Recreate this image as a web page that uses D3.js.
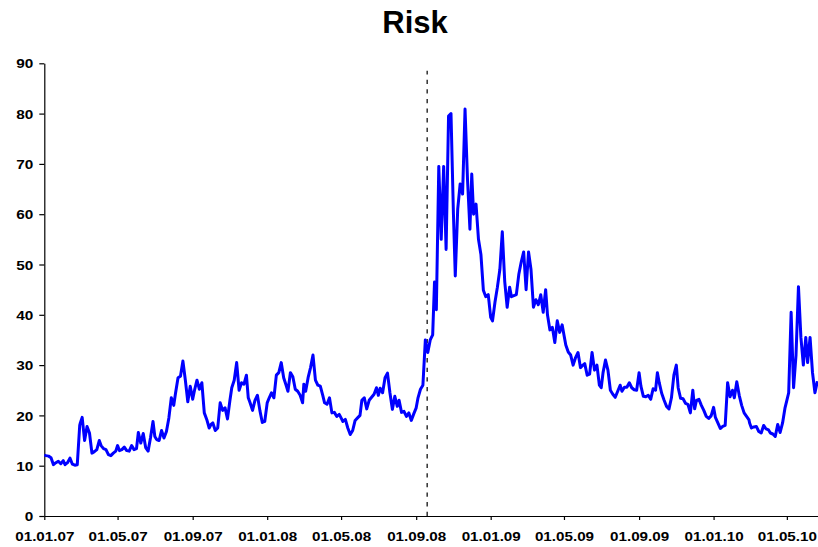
<!DOCTYPE html>
<html>
<head>
<meta charset="utf-8">
<script src="https://cdn.jsdelivr.net/npm/d3@7/dist/d3.min.js"></script>
<style>
  html, body { margin: 0; padding: 0; background: #fff; }
  svg { display: block; }
</style>
</head>
<body>
<svg id="chart" width="818" height="547"></svg>
<script>
// ---------------- DATA ----------------
const chartTitle = "Risk";
const months = [
  "2007-01","2007-02","2007-03","2007-04","2007-05","2007-06","2007-07","2007-08","2007-09","2007-10","2007-11","2007-12",
  "2008-01","2008-02","2008-03","2008-04","2008-05","2008-06","2008-07","2008-08","2008-09","2008-10","2008-11","2008-12",
  "2009-01","2009-02","2009-03","2009-04","2009-05","2009-06","2009-07","2009-08","2009-09","2009-10","2009-11","2009-12",
  "2010-01","2010-02","2010-03","2010-04","2010-05","2010-06"
];
const dayGrid = [1, 4, 8, 12, 16, 20, 24, 28];

const values2007 = [
  [12.1, 12.0, 11.9, 11.6, 10.2, 10.6, 10.9, 10.4],
  [11.0, 10.2, 10.6, 11.5, 10.3, 10.1, 10.2, 18.0],
  [18.5, 19.6, 15.0, 17.8, 16.5, 12.5, 12.8, 13.2],
  [15.0, 14.0, 13.4, 13.2, 12.2, 12.0, 12.5, 12.9],
  [14.0, 13.0, 13.2, 13.7, 13.0, 12.9, 14.0, 13.2],
  [13.4, 16.6, 14.5, 16.4, 13.6, 12.9, 15.6, 18.8],
  [15.8, 15.2, 15.0, 17.0, 15.5, 16.8, 19.5, 23.5],
  [22.0, 24.5, 27.5, 27.8, 30.8, 27.0, 22.7, 25.8],
  [23.2, 25.0, 27.0, 25.2, 26.5, 20.5, 19.2, 17.5],
  [18.2, 18.5, 17.0, 17.5, 22.5, 21.0, 21.5, 19.3],
  [23.0, 25.5, 27.0, 30.5, 25.0, 26.5, 26.2, 28.0],
  [23.5, 22.5, 21.0, 23.0, 24.0, 21.0, 18.6, 18.8]
];
const values2008 = [
  [22.5, 23.4, 24.5, 23.5, 28.0, 28.5, 30.5, 27.5],
  [26.0, 24.8, 28.5, 27.7, 25.2, 24.8, 24.0, 22.5],
  [26.2, 24.8, 27.5, 29.5, 32.0, 27.0, 26.0, 25.8],
  [24.0, 22.5, 22.2, 23.5, 20.5, 20.6, 19.8, 20.2],
  [19.5, 18.8, 19.2, 17.5, 16.2, 17.0, 19.0, 19.5],
  [20.0, 23.0, 23.5, 21.3, 23.0, 23.6, 24.2, 25.5],
  [24.0, 25.4, 24.5, 27.5, 28.4, 24.5, 21.2, 23.8],
  [21.8, 23.0, 20.6, 20.8, 19.8, 20.5, 19.0, 20.3],
  [21.5, 23.5, 25.2, 26.0, 35.0, 32.5, 35.0, 36.0],
  [46.5, 41.0, 69.5, 55.0, 69.5, 53.0, 79.5, 80.0],
  [60.0, 47.7, 61.0, 66.0, 64.0, 80.9, 67.0, 57.0],
  [68.0, 60.0, 62.0, 55.0, 52.0, 44.9, 43.6, 44.0]
];
const values2009 = [
  [39.5, 38.8, 42.5, 45.5, 49.0, 56.5, 46.6, 41.5],
  [45.5, 43.6, 43.8, 44.0, 48.0, 50.5, 52.5, 45.0],
  [47.0, 52.5, 49.0, 41.5, 43.0, 42.0, 44.0, 40.5],
  [45.0, 40.0, 37.0, 37.5, 34.5, 38.8, 36.5, 38.0],
  [36.0, 34.0, 32.6, 32.0, 30.0, 31.5, 32.5, 29.5],
  [30.0, 30.3, 28.0, 28.2, 32.5, 29.0, 30.0, 26.0],
  [25.5, 28.5, 31.0, 29.0, 25.0, 24.2, 23.6, 24.8],
  [26.0, 24.8, 25.6, 25.6, 26.5, 25.5, 25.1, 25.0],
  [28.5, 25.8, 23.8, 23.7, 24.0, 23.2, 25.3, 25.0],
  [28.5, 26.5, 24.4, 23.0, 21.8, 21.3, 23.5, 28.0],
  [30.0, 25.5, 23.4, 23.3, 22.4, 22.2, 20.5, 25.0],
  [21.3, 23.0, 23.2, 22.0, 21.0, 19.8, 19.4, 19.9]
];
const values2010 = [
  [21.6, 19.6, 18.5, 17.4, 17.8, 18.0, 26.5, 23.7],
  [25.0, 23.5, 26.7, 24.0, 22.0, 20.5, 19.8, 19.1],
  [18.5, 17.5, 17.7, 17.8, 16.8, 16.5, 18.0, 17.3],
  [17.1, 16.5, 16.3, 15.8, 18.2, 16.6, 18.5, 21.5],
  [23.0, 24.5, 40.5, 25.5, 32.0, 45.6, 35.5, 30.0],
  [35.5, 30.5, 35.5, 28.5, 24.5, 26.8]
];

const xTickDates = ["2007-01-01","2007-05-01","2007-09-01","2008-01-01","2008-05-01","2008-09-01",
                    "2009-01-01","2009-05-01","2009-09-01","2010-01-01","2010-05-01"];
const yTicks = [0, 10, 20, 30, 40, 50, 60, 70, 80, 90];
const xDomain = ["2007-01-01", "2010-06-21"];
const yDomain = [0, 90];
const eventDate = "2008-09-19";
const eventTop = 88.5;

// ---------------- BUILD ----------------
const parse = d3.utcParse("%Y-%m-%d");
const pad = d => (d < 10 ? "0" : "") + d;
const monthRows = [].concat(values2007, values2008, values2009, values2010);
const data = [];
months.forEach((m, i) => {
  monthRows[i].forEach((v, j) => {
    data.push({ date: parse(m + "-" + pad(dayGrid[j])), value: v });
  });
});

const svg = d3.select("#chart");
const plotLeft = 44.3, plotRight = 818, plotTop = 63.3, plotBottom = 516;

const x = d3.scaleUtc().domain(xDomain.map(parse)).range([plotLeft, plotRight]);
const y = d3.scaleLinear().domain(yDomain).range([plotBottom, plotTop]);

// title
svg.append("text")
  .attr("x", 415).attr("y", 33.3)
  .attr("text-anchor", "middle")
  .style("font-family", "'Liberation Sans', Arial, sans-serif")
  .style("font-weight", "bold")
  .style("font-size", "31px")
  .text(chartTitle);

const fmt = d3.utcFormat("%d.%m.%y");
const labelFont = "'Liberation Sans', Arial, sans-serif";

// y axis
const yAxis = d3.axisLeft(y).tickValues(yTicks).tickSize(5).tickSizeOuter(0).tickFormat(d => d);
const gy = svg.append("g").attr("transform", `translate(${plotLeft},0)`).call(yAxis);
gy.select(".domain").attr("stroke", "#000").attr("stroke-width", 1.2);
gy.selectAll(".tick line").attr("stroke", "#000").attr("stroke-width", 1.2);
gy.selectAll(".tick text")
  .attr("x", null).attr("dy", null)
  .attr("transform", "translate(-11,4.6) scale(1.18,1)")
  .attr("text-anchor", "end")
  .style("font-family", labelFont).style("font-weight", "bold").style("font-size", "13px").attr("fill", "#000");

// x axis
const xAxis = d3.axisBottom(x).tickValues(xTickDates.map(parse)).tickSize(4).tickSizeOuter(0).tickFormat(fmt);
const gx = svg.append("g").attr("transform", `translate(0,${plotBottom})`).call(xAxis);
gx.select(".domain").attr("stroke", "#000").attr("stroke-width", 1.2);
gx.selectAll(".tick line").attr("stroke", "#000").attr("stroke-width", 1.2);
gx.selectAll(".tick text")
  .attr("y", null).attr("dy", null)
  .attr("transform", "translate(0,25.3) scale(1.17,1)")
  .attr("text-anchor", "middle")
  .style("font-family", labelFont).style("font-weight", "bold").style("font-size", "13px").attr("fill", "#000");

// event dashed line
svg.append("line")
  .attr("x1", x(parse(eventDate))).attr("x2", x(parse(eventDate)))
  .attr("y1", y(0)).attr("y2", y(eventTop))
  .attr("stroke", "#222").attr("stroke-width", 1.4)
  .attr("stroke-dasharray", "4.3,5.3");

// series line
const line = d3.line().x(d => x(d.date)).y(d => y(d.value));
svg.append("path")
  .datum(data)
  .attr("d", line)
  .attr("fill", "none")
  .attr("stroke", "#0000ff")
  .attr("stroke-width", 3)
  .attr("stroke-linejoin", "round");
</script>
</body>
</html>
